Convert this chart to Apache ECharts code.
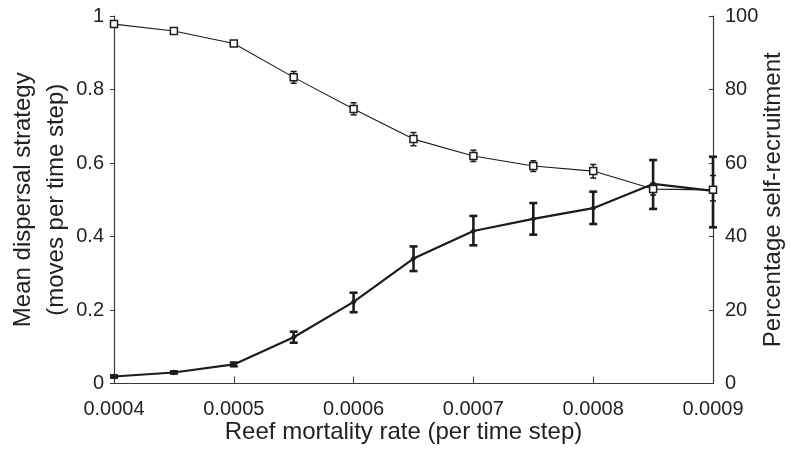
<!DOCTYPE html>
<html>
<head>
<meta charset="utf-8">
<script src="https://cdn.jsdelivr.net/npm/echarts@6/dist/echarts.min.js"></script>
<style>html,body{margin:0;padding:0;background:#fff}#c{width:794px;height:453px}</style>
</head>
<body>
<div id="c"></div>
<script>
const mortality = [0.0004, 0.00045, 0.0005, 0.00055, 0.0006, 0.00065, 0.0007, 0.00075, 0.0008, 0.00085, 0.0009];
const dispersal = [0.019, 0.030, 0.052, 0.126, 0.222, 0.340, 0.415, 0.448, 0.477, 0.543, 0.524];
const dispersalLow = [0.016, 0.027, 0.047, 0.111, 0.194, 0.306, 0.376, 0.405, 0.434, 0.475, 0.425];
const dispersalHigh = [0.022, 0.033, 0.057, 0.141, 0.247, 0.373, 0.456, 0.491, 0.522, 0.608, 0.617];
const selfRecruit = [97.8, 95.9, 92.5, 83.3, 74.7, 66.5, 61.9, 59.2, 57.8, 52.9, 52.7];
const selfLow = [97.0, 95.4, 91.8, 81.7, 73.1, 64.7, 60.4, 57.7, 55.9, 51.3, 49.7];
const selfHigh = [98.6, 96.4, 93.2, 84.9, 76.4, 68.3, 63.5, 60.6, 59.6, 54.5, 56.6];
const leftTicks = [0, 0.2, 0.4, 0.6, 0.8, 1];
const rightTicks = [0, 20, 40, 60, 80, 100];
const xTicks = [0.0004, 0.0005, 0.0006, 0.0007, 0.0008, 0.0009];

const FONT = "'Liberation Sans', Arial, Helvetica, sans-serif";
const AX = '#3a3a3a';
const INK = '#1c1c1c';

function errItem(capW, lw) {
  return function (params, api) {
    const x = api.value(0);
    const p1 = api.coord([x, api.value(1)]);
    const p2 = api.coord([x, api.value(2)]);
    const st = { stroke: INK, lineWidth: lw };
    return {
      type: 'group',
      children: [
        { type: 'line', shape: { x1: p1[0], y1: p1[1], x2: p2[0], y2: p2[1] }, style: st },
        { type: 'line', shape: { x1: p1[0] - capW, y1: p1[1], x2: p1[0] + capW, y2: p1[1] }, style: st },
        { type: 'line', shape: { x1: p2[0] - capW, y1: p2[1], x2: p2[0] + capW, y2: p2[1] }, style: st }
      ]
    };
  };
}

const chart = echarts.init(document.getElementById('c'), null, { renderer: 'canvas' });
chart.setOption({
  animation: false,
  backgroundColor: '#fff',
  textStyle: { fontFamily: FONT },
  grid: { left: 114, right: 81, top: 16, bottom: 69.5, containLabel: false, outerBoundsMode: 'none' },
  xAxis: {
    type: 'value', min: xTicks[0], max: xTicks[xTicks.length - 1], interval: 0.0001,
    name: 'Reef mortality rate (per time step)', nameLocation: 'middle', nameGap: 37, nameMoveOverlap: false,
    nameTextStyle: { fontSize: 24, color: '#222', fontFamily: FONT, padding: [0, 20, 0, 0] },
    axisLine: { show: true, onZero: false, lineStyle: { color: AX, width: 1.2 } },
    axisTick: { show: true, inside: true, length: 7, lineStyle: { color: AX, width: 1 } },
    axisLabel: { fontSize: 20, color: '#222', margin: 16, fontFamily: FONT, formatter: v => v.toFixed(4) },
    splitLine: { show: false }
  },
  yAxis: [
    {
      type: 'value', min: 0, max: 1, interval: 0.2, position: 'left',
      name: 'Mean dispersal strategy\n(moves per time step)', nameLocation: 'middle', nameGap: 41, nameMoveOverlap: false,
      nameTextStyle: { fontSize: 24, color: '#222', lineHeight: 33, fontFamily: FONT },
      axisLine: { show: true, lineStyle: { color: AX, width: 1.2 } },
      axisTick: { show: true, inside: false, length: 4, lineStyle: { color: AX, width: 1 } },
      axisLabel: { fontSize: 20, color: '#222', margin: 10, fontFamily: FONT, formatter: v => String(+v.toFixed(1)) },
      splitLine: { show: false }
    },
    {
      type: 'value', min: 0, max: 100, interval: 20, position: 'right',
      name: 'Percentage self-recruitment', nameLocation: 'middle', nameGap: 48, nameRotate: 90, nameMoveOverlap: false,
      nameTextStyle: { fontSize: 24, color: '#222', fontFamily: FONT },
      axisLine: { show: true, lineStyle: { color: AX, width: 1.2 } },
      axisTick: { show: true, inside: true, length: 4, lineStyle: { color: AX, width: 1 } },
      axisLabel: { fontSize: 20, color: '#222', margin: 12, fontFamily: FONT },
      splitLine: { show: false }
    }
  ],
  series: [
    {
      type: 'custom', yAxisIndex: 0, z: 2,
      renderItem: errItem(4, 2.6),
      encode: { x: 0, y: [1, 2] },
      data: mortality.map((x, i) => [x, dispersalLow[i], dispersalHigh[i]])
    },
    {
      type: 'custom', yAxisIndex: 1, z: 2,
      renderItem: errItem(3, 1.5),
      encode: { x: 0, y: [1, 2] },
      data: mortality.map((x, i) => [x, selfLow[i], selfHigh[i]])
    },
    {
      type: 'line', yAxisIndex: 0, z: 3,
      data: mortality.map((x, i) => [x, dispersal[i]]),
      lineStyle: { color: INK, width: 2.2 },
      symbol: 'diamond', symbolSize: 6,
      itemStyle: { color: INK, borderColor: INK, borderWidth: 0 }
    },
    {
      type: 'line', yAxisIndex: 1, z: 4,
      data: mortality.map((x, i) => [x, selfRecruit[i]]),
      lineStyle: { color: INK, width: 1.1 },
      symbol: 'rect', symbolSize: 7,
      itemStyle: { color: '#fff', borderColor: INK, borderWidth: 1.5 }
    }
  ]
});
</script>
</body>
</html>
